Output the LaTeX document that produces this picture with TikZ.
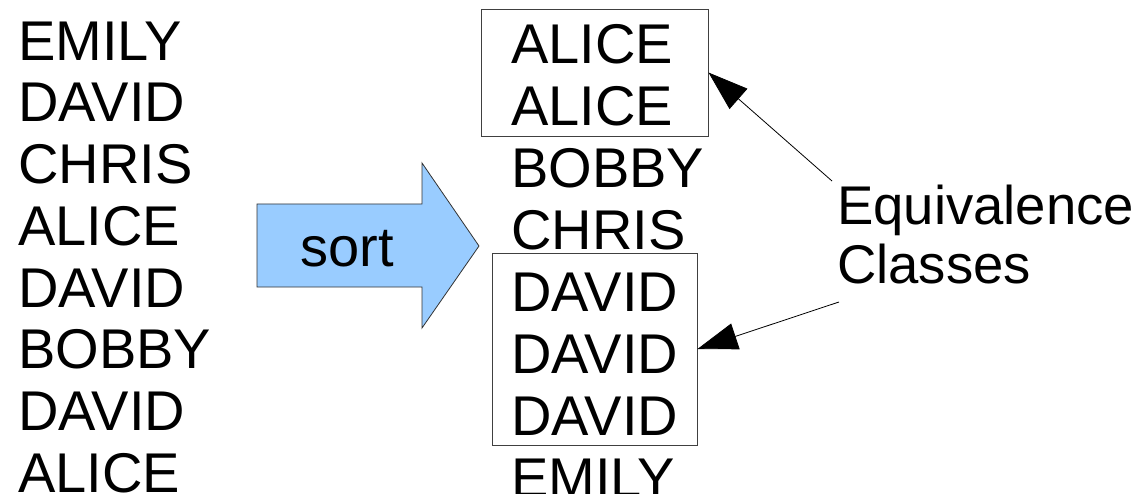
\documentclass[tikz,border=0pt]{standalone}
\usepackage{fontspec}
\setmainfont{Liberation Sans}
\usetikzlibrary{arrows.meta}
\definecolor{arrowblue}{HTML}{99CCFF}
\begin{document}
\begin{tikzpicture}[x=1pt,y=-1pt,
  entry/.style={anchor=west,inner sep=0pt,font=\fontsize{56}{62}\selectfont},
  classtext/.style={anchor=base west,inner sep=0pt,font=\fontsize{54.5}{62}\selectfont},
  classbox/.style={draw=black!75,line width=0.9pt,inner sep=0pt},
  pointer/.style={line width=0.8pt,-{Triangle[length=40pt,width=27pt]}}]
\useasboundingbox (0,0) rectangle (1139,494);
% unsorted list
\foreach \t [count=\i] in {EMILY,DAVID,CHRIS,ALICE,DAVID,BOBBY,DAVID,ALICE}
  \node[entry] (l\i) at (18,{41+61.7*(\i-1)}) {\t};
% sort arrow
\draw[fill=arrowblue,draw=black!80,line width=0.8pt]
  (257,204) -- (422,204) -- (422,163) -- (479,246) -- (422,328) -- (422,287) -- (257,287) -- cycle;
\node[anchor=base,inner sep=0pt,font=\fontsize{56}{62}\selectfont] (sort) at (347,266) {sort};
% sorted list
\foreach \t [count=\i] in {ALICE,ALICE,BOBBY,CHRIS,DAVID,DAVID,DAVID,EMILY}
  \node[entry] (r\i) at (511,{44.5+61.9*(\i-1)}) {\t};
% equivalence class boxes
\node[classbox,minimum width=227pt,minimum height=127pt] (box1) at (594.5,72.5) {};
\node[classbox,minimum width=205pt,minimum height=192pt] (box2) at (594.5,349) {};
% label and pointers
\node[classtext] (eq) at (837,225) {Equivalence};
\node[classtext] (cl) at (837,283) {Classes};
\coordinate (t1) at (832,181);
\coordinate (t2) at (839,302);
\draw[pointer] (t1) -- (box1.east);
\draw[pointer] (t2) -- (box2.east);
\end{tikzpicture}
\end{document}
